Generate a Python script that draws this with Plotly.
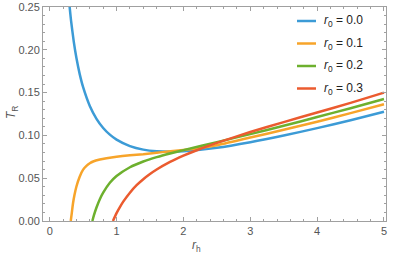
import plotly.graph_objects as go

# r_h samples and T_R values
rh_blue = [0.29, 0.32, 0.36, 0.40, 0.45, 0.50, 0.60, 0.70, 0.80, 0.90, 1.0, 1.2, 1.4, 1.6, 1.8, 2.0, 2.5, 3.0, 3.5, 4.0, 4.5, 5.0]
t_blue = [0.2566, 0.2338, 0.2095, 0.1903, 0.1713, 0.1563, 0.1344, 0.1194, 0.1087, 0.1009, 0.0951, 0.0875, 0.0834, 0.0815, 0.0810, 0.0815, 0.0855, 0.0920, 0.0998, 0.1085, 0.1178, 0.1277]

rh_orange = [0.315, 0.33, 0.349, 0.37, 0.399, 0.45, 0.50, 0.55, 0.60, 0.65, 0.75, 0.85, 1.0, 1.2, 1.4, 1.6, 1.77, 2.0, 2.27, 2.5, 3.0, 3.5, 4.0, 4.5, 5.0]
t_orange = [0.0, 0.009, 0.0207, 0.030, 0.040, 0.052, 0.060, 0.0645, 0.0675, 0.0695, 0.0718, 0.0733, 0.0750, 0.0767, 0.0780, 0.0797, 0.0812, 0.0830, 0.0855, 0.0885, 0.0975, 0.1065, 0.1160, 0.1260, 0.1363]

rh_green = [0.638, 0.66, 0.70, 0.75, 0.80, 0.90, 1.0, 1.2, 1.4, 1.6, 1.8, 2.0, 2.5, 3.0, 3.5, 4.0, 4.5, 5.0]
t_green = [0.0, 0.0062, 0.0158, 0.0255, 0.0331, 0.0446, 0.0525, 0.0628, 0.0695, 0.0746, 0.0789, 0.0828, 0.0921, 0.1015, 0.1112, 0.1215, 0.1318, 0.1425]

rh_red = [0.946, 1.0, 1.05, 1.1, 1.2, 1.3, 1.4, 1.5, 1.6, 1.8, 2.0, 2.2, 2.5, 3.0, 3.5, 4.0, 4.5, 5.0]
t_red = [0.0, 0.0092, 0.0162, 0.0226, 0.0331, 0.0418, 0.0488, 0.0548, 0.0601, 0.0690, 0.0763, 0.0827, 0.0912, 0.1039, 0.1155, 0.1268, 0.1380, 0.1500]

x_ticks = [0, 1, 2, 3, 4, 5]
y_ticks = [0.00, 0.05, 0.10, 0.15, 0.20, 0.25]
labels = ["0.0", "0.1", "0.2", "0.3"]
colors = ["#3C9BD6", "#F7A42A", "#6DB02E", "#EB5B2F"]

series = [(rh_blue, t_blue), (rh_orange, t_orange), (rh_green, t_green), (rh_red, t_red)]
FONT = "Liberation Sans, Arial, sans-serif"

fig = go.Figure()
for (x, y), lab, col in zip(series, labels, colors):
    fig.add_trace(go.Scatter(
        x=x, y=y, mode="lines", line=dict(color=col, width=2.5, shape="spline", smoothing=0.6),
        name="<i>r</i><sub>0</sub> = " + lab, showlegend=False,
    ))

axis_common = dict(
    showline=True, linecolor="#a0a0a0", linewidth=1, mirror="ticks",
    ticks="inside", ticklen=4, tickcolor="#a0a0a0", tickwidth=1,
    showgrid=False, zeroline=False, automargin=False,
    tickfont=dict(family=FONT, size=11, color="#555555"),
)

fig.update_xaxes(
    range=[-0.1, 5.03], tickvals=x_ticks,
    minor=dict(ticks="inside", dtick=0.2, tick0=0, ticklen=2, tickcolor="#a0a0a0"),
    **axis_common,
)
fig.update_yaxes(
    range=[0, 0.25], tickvals=y_ticks, tickformat=".2f",
    minor=dict(ticks="inside", dtick=0.01, tick0=0, ticklen=2, tickcolor="#a0a0a0"),
    **axis_common,
)

plot_l, plot_r, plot_t, plot_b = 43, 386, 7, 221
plot_w, plot_h = plot_r - plot_l, plot_b - plot_t


def px(xp):
    return (xp - plot_l) / plot_w


def py(yp):
    return (plot_b - yp) / plot_h


annotations = [
    dict(text="<i>r</i><sub>h</sub>", xref="paper", yref="paper", x=px(196), y=py(246),
         xanchor="center", yanchor="middle", showarrow=False,
         font=dict(family=FONT, size=12, color="#555555")),
    dict(text="<i>T</i><sub>R</sub>", xref="paper", yref="paper", x=px(12), y=py(113),
         xanchor="center", yanchor="middle", showarrow=False, textangle=-90,
         font=dict(family=FONT, size=12, color="#555555")),
]

# Mathematica-style legend inside the top-right corner
shapes = []
row_y = [21, 43.5, 66, 88.5]
for i, (lab, col) in enumerate(zip(labels, colors)):
    shapes.append(dict(type="line", xref="paper", yref="paper",
                       x0=px(297), x1=px(316), y0=py(row_y[i]), y1=py(row_y[i]),
                       line=dict(color=col, width=2.5)))
    annotations.append(dict(text="<i>r</i><sub>0</sub> = " + lab, xref="paper", yref="paper",
                            x=px(322), y=py(row_y[i]), xanchor="left", yanchor="middle",
                            showarrow=False, font=dict(family=FONT, size=12, color="#222222")))

fig.update_layout(
    width=393, height=258,
    margin=dict(l=plot_l, r=393 - plot_r, t=plot_t, b=258 - plot_b, pad=0),
    plot_bgcolor="white", paper_bgcolor="white",
    showlegend=False,
    annotations=annotations, shapes=shapes,
)

fig.write_html("out.html",
               config={"displayModeBar": False},
               post_script="document.body.style.margin='0';document.body.style.overflow='hidden';")
